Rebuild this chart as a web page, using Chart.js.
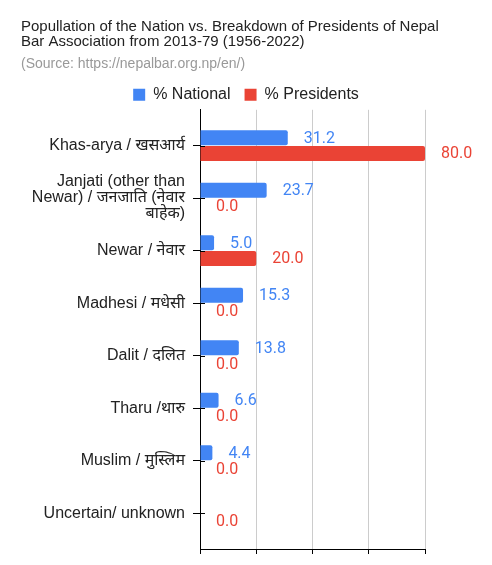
<!DOCTYPE html>
<html>
<head>
<meta charset="utf-8">
<script src="https://cdn.jsdelivr.net/npm/chart.js@4"></script>
<style>
  html, body { margin: 0; padding: 0; background: #fff; }
  #wrap { width: 492px; height: 565px; }
</style>
</head>
<body>
<div id="wrap"><canvas id="chart"></canvas></div>
<script>
const categories = [
  'Khas-arya / खसआर्य',
  ['Janjati (other than', 'Newar) / जनजाति (नेवार', 'बाहेक)'],
  'Newar / नेवार',
  'Madhesi / मधेसी',
  'Dalit / दलित',
  'Tharu /थारु',
  'Muslim / मुस्लिम',
  'Uncertain/ unknown'
];
const nationalPct = [31.2, 23.7, 5.0, 15.3, 13.8, 6.6, 4.4, null];
const presidentsPct = [80.0, 0.0, 20.0, 0.0, 0.0, 0.0, 0.0, 0.0];
const xMax = 80;

const FONT = "'Liberation Sans', Arial, 'Noto Sans Devanagari', sans-serif";

// value labels at the end of each bar
const barLabels = {
  id: 'barLabels',
  afterDatasetsDraw(chart) {
    const ctx = chart.ctx;
    ctx.save();
    ctx.font = "16px Roboto, 'Liberation Sans', sans-serif";
    ctx.textBaseline = 'middle';
    ctx.textAlign = 'left';
    chart.data.datasets.forEach((ds, i) => {
      const meta = chart.getDatasetMeta(i);
      meta.data.forEach((bar, j) => {
        const v = ds.data[j].x;
        if (v === null) return;
        ctx.fillStyle = ds.labelColor;
        ctx.fillText(v.toFixed(1), bar.x + 16, bar.y + 1);
      });
    });
    // small inner part of the category ticks
    const y = chart.scales.y;
    ctx.strokeStyle = '#000';
    ctx.lineWidth = 1;
    y.ticks.forEach(t => {
      const py = Math.round(y.getPixelForValue(t.value)) + 0.5;
      ctx.beginPath();
      ctx.moveTo(y.right, py);
      ctx.lineTo(y.right + 5, py);
      ctx.stroke();
    });
    ctx.restore();
  }
};

new Chart(document.getElementById('chart'), {
  type: 'bar',
  data: {
    datasets: [
      {
        label: '% National',
        data: nationalPct.map((v, i) => ({ x: v, y: i })),
        backgroundColor: '#4285F4',
        labelColor: '#4285F4',
        borderRadius: 2,
        borderSkipped: 'start',
        categoryPercentage: 0.6,
        barPercentage: 0.95
      },
      {
        label: '% Presidents',
        data: presidentsPct.map((v, i) => ({ x: v, y: i })),
        backgroundColor: '#EA4335',
        labelColor: '#EA4335',
        borderRadius: 2,
        borderSkipped: 'start',
        categoryPercentage: 0.6,
        barPercentage: 0.95
      }
    ]
  },
  options: {
    indexAxis: 'y',
    responsive: true,
    maintainAspectRatio: false,
    animation: false,
    layout: { padding: { left: 21, top: 0, right: 21, bottom: 0 } },
    plugins: {
      title: {
        display: true,
        text: ['Popullation of the Nation vs. Breakdown of Presidents of Nepal', 'Bar Association from 2013-79 (1956-2022)'],
        align: 'start',
        color: '#222',
        font: { family: FONT, size: 15, weight: 'normal', lineHeight: 1.0 },
        padding: { top: 19, bottom: 4 }
      },
      subtitle: {
        display: true,
        text: '(Source: https://nepalbar.org.np/en/)',
        align: 'start',
        color: '#999',
        font: { family: FONT, size: 14, lineHeight: 1.2 },
        padding: { top: 3, bottom: 0 }
      },
      legend: {
        display: true,
        position: 'top',
        maxHeight: 37,
        labels: {
          boxWidth: 12,
          boxHeight: 12,
          padding: 14,
          color: '#222',
          font: { family: FONT, size: 16 }
        }
      },
      tooltip: { enabled: false }
    },
    scales: {
      x: {
        type: 'linear',
        min: 0,
        max: xMax,
        ticks: { stepSize: 20, display: false },
        grid: { color: '#ccc', tickColor: '#000', tickLength: 5 },
        border: { display: true, color: '#000' },
        afterFit(s) { s.height = 14; }
      },
      y: {
        type: 'linear',
        reverse: true,
        offset: false,
        min: -0.68,
        max: categories.length - 1 + 0.68,
        afterBuildTicks(s) {
          s.ticks = categories.map((c, i) => ({ value: i }));
        },
        ticks: {
          autoSkip: false,
          padding: 8,
          color: '#222',
          font: { family: FONT, size: 16, lineHeight: 1.0 },
          callback: v => categories[v]
        },
        grid: { offset: false, drawOnChartArea: false, tickColor: '#000', tickLength: 7 },
        border: { display: true, color: '#000' },
        afterFit(s) { s.width = 179; }
      },
      yRight: {
        type: 'linear',
        position: 'right',
        display: true,
        ticks: { display: false },
        grid: { display: false },
        border: { display: false },
        afterFit(s) { s.width = 46; }
      }
    }
  },
  plugins: [barLabels]
});
</script>
</body>
</html>
